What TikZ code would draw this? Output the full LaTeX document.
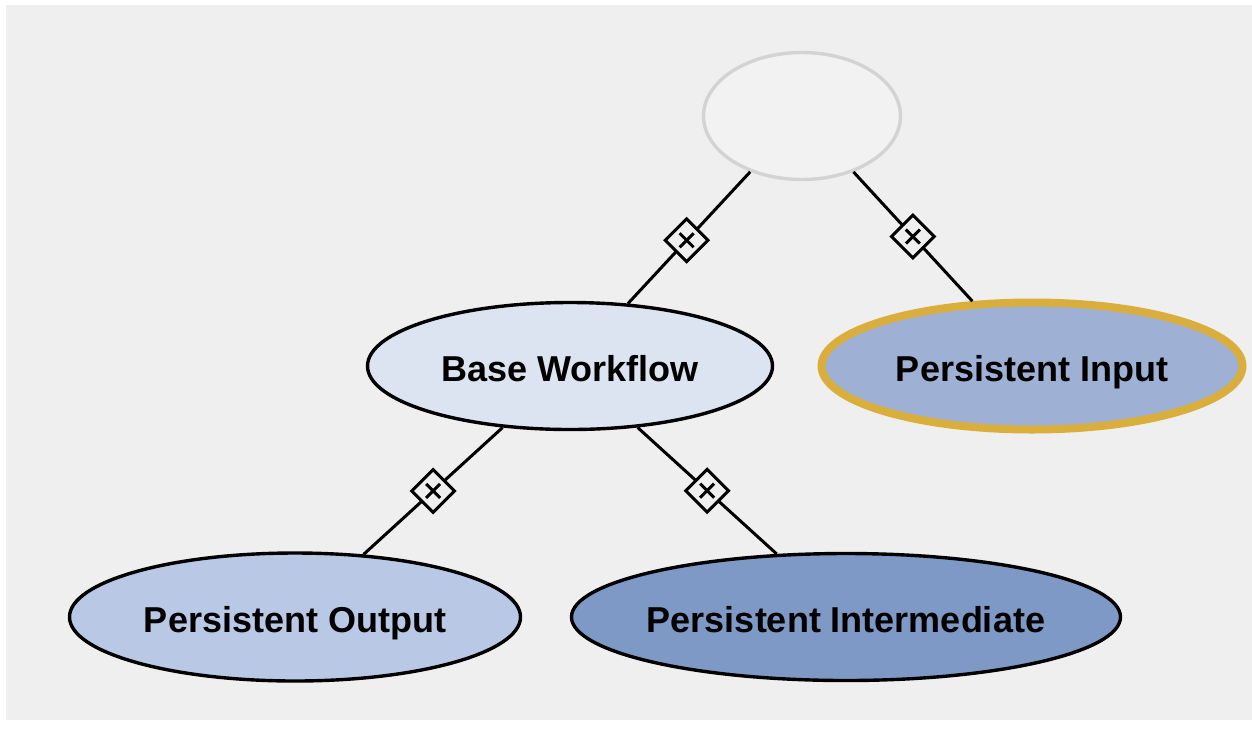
\documentclass[tikz,border=0pt]{standalone}
\usepackage{fontspec}
\setmainfont{Liberation Sans}
\usetikzlibrary{shapes.geometric}
\definecolor{bgc}{HTML}{EFEFEF}
\definecolor{topfill}{HTML}{F2F2F2}
\definecolor{topline}{HTML}{D3D3D3}
\definecolor{basefill}{HTML}{DCE3F1}
\definecolor{inputfill}{HTML}{9EB1D5}
\definecolor{gold}{HTML}{D9AE3C}
\definecolor{outfill}{HTML}{B8C8E5}
\definecolor{intfill}{HTML}{7F99C6}
\tikzset{
  ell/.style={ellipse, draw=black, line width=3.4pt, inner sep=0pt},
  lbl/.style={font=\fontsize{36}{40}\selectfont\bfseries, text=black, inner sep=0pt,
    text height=26pt, text depth=0pt, yshift=-2pt},
  conn/.style={line width=3pt, draw=black},
  marker/.style={diamond, aspect=1, draw=black, fill=bgc, line width=3pt,
    minimum width=44pt, minimum height=44pt, inner sep=0pt,
    path picture={
      \draw[line width=3pt] (path picture bounding box.center) ++(-7pt,-7pt) -- ++(14pt,14pt);
      \draw[line width=3pt] (path picture bounding box.center) ++(-7pt,7pt) -- ++(14pt,-14pt);
    }}
}
\begin{document}
\begin{tikzpicture}[x=1pt,y=-1pt]
\useasboundingbox (0,0) rectangle (1252,729);
\fill[white] (0,0) rectangle (1252,729);
\fill[bgc] (6,5) rectangle (1252,720);

\node[ell, draw=topline, line width=3.4pt, fill=topfill, minimum width=197pt, minimum height=127pt] (top) at (802,116) {};
\node[ell, fill=basefill, minimum width=405pt, minimum height=127pt,
  label={[lbl]center:Base Workflow}] (base) at (570,366) {};
\node[ell, draw=gold, line width=8pt, fill=inputfill, minimum width=421pt, minimum height=127pt,
  label={[lbl]center:Persistent Input}] (input) at (1032,366) {};
\node[ell, fill=outfill, minimum width=451pt, minimum height=128pt,
  label={[lbl]center:Persistent Output}] (output) at (295,617) {};
\node[ell, fill=intfill, minimum width=549pt, minimum height=127pt,
  label={[lbl]center:Persistent Intermediate}] (inter) at (846,617) {};

\draw[conn] (top) -- node[marker, pos=0.52] (m1) {} (base);
\draw[conn] (top) -- node[marker, pos=0.5] (m2) {} (input);
\draw[conn] (base) -- node[marker, pos=0.5] (m3) {} (output);
\draw[conn] (base) -- node[marker, pos=0.5] (m4) {} (inter);
\end{tikzpicture}
\end{document}
